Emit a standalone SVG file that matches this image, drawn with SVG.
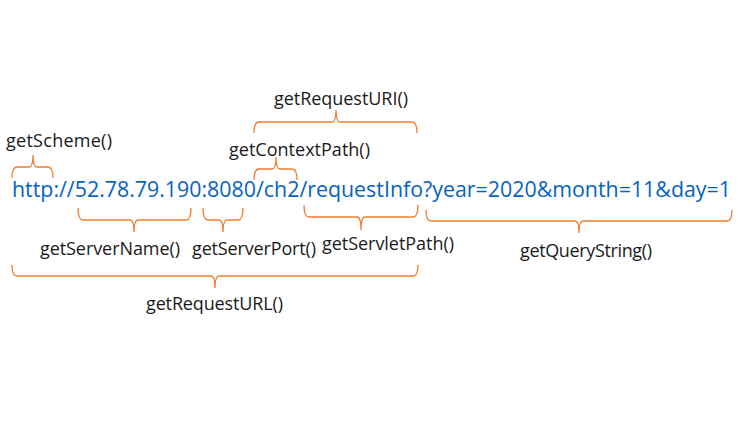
<svg xmlns="http://www.w3.org/2000/svg" width="750" height="421" viewBox="0 0 750 421">
<style>
.lbl{font-family:"Open Sans","Noto Sans","Liberation Sans",sans-serif;font-size:18px;fill:#1a1a1a}
.url{font-family:"Open Sans","Noto Sans","Liberation Sans",sans-serif;font-size:21px;fill:#0563C1}
.brace{fill:none;stroke:#ED7D31;stroke-width:1.3}
</style>
<rect width="750" height="421" fill="#ffffff"/>
<g id="url"><text class="url" x="12" y="197" textLength="719" lengthAdjust="spacingAndGlyphs">http://52.78.79.190:8080/ch2/requestInfo?year=2020&amp;month=11&amp;day=1</text></g>
<g id="connectors">
<!-- above braces: ends down, tip up -->
<path class="brace" d="M12,178 Q12,167 17,167 H29 Q33,167 33,155 Q33,167 37,167 H48 Q53,167 53,178"/>
<path class="brace" d="M254,180 Q254,169 259,169 H272 Q276,169 276,157 Q276,169 280,169 H292 Q297,169 297,180"/>
<path class="brace" d="M254,133 Q254,122 259,122 H332 Q336,122 336,110 Q336,122 340,122 H412 Q417,122 417,133"/>
<!-- below braces: ends up, tip down -->
<path class="brace" d="M78,208 Q78,220 83,220 H130 Q134,220 134,232 Q134,220 138,220 H186 Q191,220 191,208"/>
<path class="brace" d="M203,208 Q203,220 208,220 H219 Q223,220 223,232 Q223,220 227,220 H238 Q243,220 243,208"/>
<path class="brace" d="M304,205 Q304,217 309,217 H357 Q361,217 361,230 Q361,217 365,217 H413 Q418,217 418,205"/>
<path class="brace" d="M426,210 Q426,221 431,221 H575 Q579,221 579,233 Q579,221 583,221 H727 Q732,221 732,210"/>
<path class="brace" d="M12,265 Q12,276 17,276 H211 Q215,276 215,288 Q215,276 219,276 H413 Q418,276 418,265"/>
</g>
<g id="getScheme"><text class="lbl" x="6" y="147" textLength="106">getScheme()</text></g>
<g id="getRequestURI"><text class="lbl" x="274" y="105" textLength="134">getRequestURI()</text></g>
<g id="getContextPath"><text class="lbl" x="229" y="156" textLength="141">getContextPath()</text></g>
<g id="getServerName"><text class="lbl" x="40" y="255" textLength="140">getServerName()</text></g>
<g id="getServerPort"><text class="lbl" x="192" y="255" textLength="124">getServerPort()</text></g>
<g id="getServletPath"><text class="lbl" x="322" y="250" textLength="132">getServletPath()</text></g>
<g id="getQueryString"><text class="lbl" x="520" y="257" textLength="132">getQueryString()</text></g>
<g id="getRequestURL"><text class="lbl" x="146" y="310" textLength="137">getRequestURL()</text></g>
</svg>
